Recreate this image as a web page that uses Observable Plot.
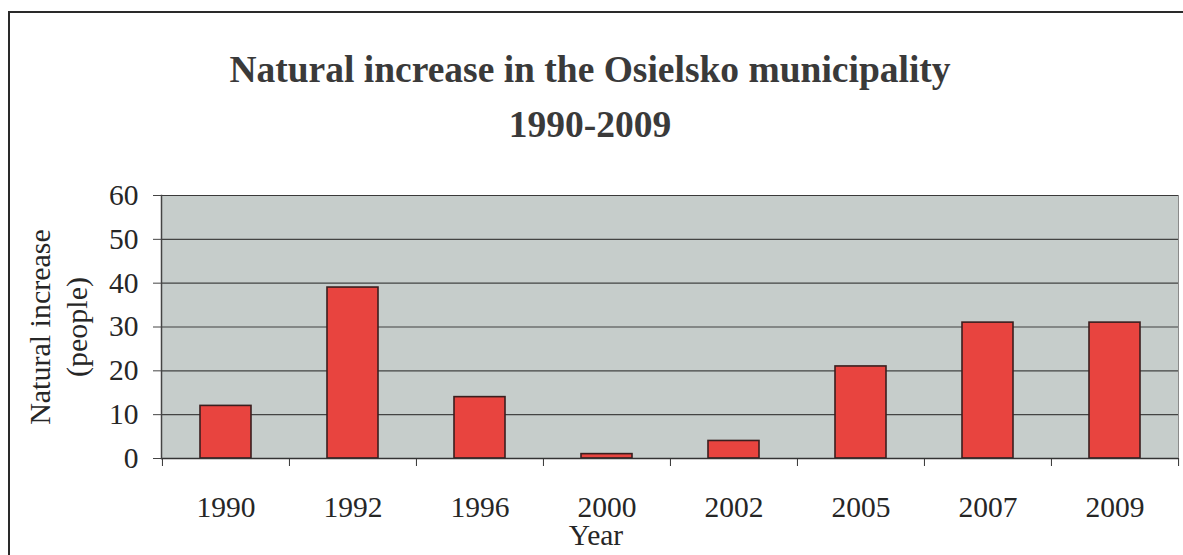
<!DOCTYPE html>
<html>
<head>
<meta charset="utf-8">
<script src="https://cdn.jsdelivr.net/npm/d3@7"></script>
<script src="https://cdn.jsdelivr.net/npm/@observablehq/plot@0.6"></script>
<style>
  html, body { margin: 0; padding: 0; background: #fff; }
  #wrap { position: relative; width: 1183px; height: 555px; overflow: hidden; font-family: "Liberation Serif", "Times New Roman", serif; color: #262626; }
  #border { position: absolute; left: 8px; top: 11px; width: 1300px; height: 700px; border: 2px solid #2a2a2a; box-sizing: border-box; }
  .title { position: absolute; left: 0; width: 1180px; text-align: center; font-weight: bold; font-size: 37.5px; line-height: 55px; color: #3a3a3a; }
  #ylabel { position: absolute; left: 58px; top: 327px; transform: translate(-50%, -50%) rotate(-90deg); white-space: nowrap; text-align: center; font-size: 30px; line-height: 37px; }
  #xlabel { position: absolute; left: 496px; width: 200px; top: 524px; text-align: center; font-size: 29.5px; line-height: 22px; }
  #chart { position: absolute; left: 0; top: 0; }
</style>
</head>
<body>
<div id="wrap">
  <div id="border"></div>
  <div class="title" style="top:42px">Natural increase in the Osielsko municipality</div>
  <div class="title" style="top:97px">1990-2009</div>
  <div id="ylabel">Natural increase<br>(people)</div>
  <div id="xlabel">Year</div>
  <div id="chart"></div>
</div>
<script>
const years = ["1990", "1992", "1996", "2000", "2002", "2005", "2007", "2009"];
const increase = [12, 39, 14, 1, 4, 21, 31, 31];
const yTicks = [0, 10, 20, 30, 40, 50, 60];

const data = years.map((y, i) => ({year: y, value: increase[i]}));

const W = 1183, H = 555, mL = 161, mR = 5, mT = 195, mB = 97;
const step = (W - mL - mR) / years.length;

const chart = Plot.plot({
  width: W,
  height: H,
  marginLeft: mL,
  marginRight: mR,
  marginTop: mT,
  marginBottom: mB,
  style: {background: "transparent", fontFamily: "Liberation Serif, Times New Roman, serif", fontSize: "29.5px", color: "#262626"},
  x: {domain: years, paddingInner: 0.6, paddingOuter: 0.3, label: null},
  y: {domain: [0, 60], label: null},
  marks: [
    Plot.frame({fill: "#c6cdcb", stroke: "#8a8a8a"}),
    Plot.gridY(yTicks, {stroke: "#2b2b2b", strokeOpacity: 0.85, strokeWidth: 1.2}),
    Plot.barY(data, {x: "year", y: "value", fill: "#e8443f", stroke: "#3a1f1f", strokeWidth: 1.6}),
    Plot.ruleY([0], {stroke: "#333", strokeWidth: 1.5}),
    Plot.frame({anchor: "left", stroke: "#444", strokeWidth: 1.5}),
    Plot.axisY(yTicks, {tickSize: 8, tickPadding: 15, fontSize: 29.5, stroke: "#444", label: null}),
    Plot.axisX(years, {tickSize: 8, tickFormat: () => "", dx: -step / 2, stroke: "#333", label: null}),
    Plot.axisX([years[years.length - 1]], {tickSize: 8, tickFormat: () => "", dx: step / 2, stroke: "#333", label: null}),
    Plot.axisX(years, {tickSize: 0, tickPadding: 38, fontSize: 29.5, label: null})
  ]
});
document.getElementById("chart").appendChild(chart);
</script>
</body>
</html>
